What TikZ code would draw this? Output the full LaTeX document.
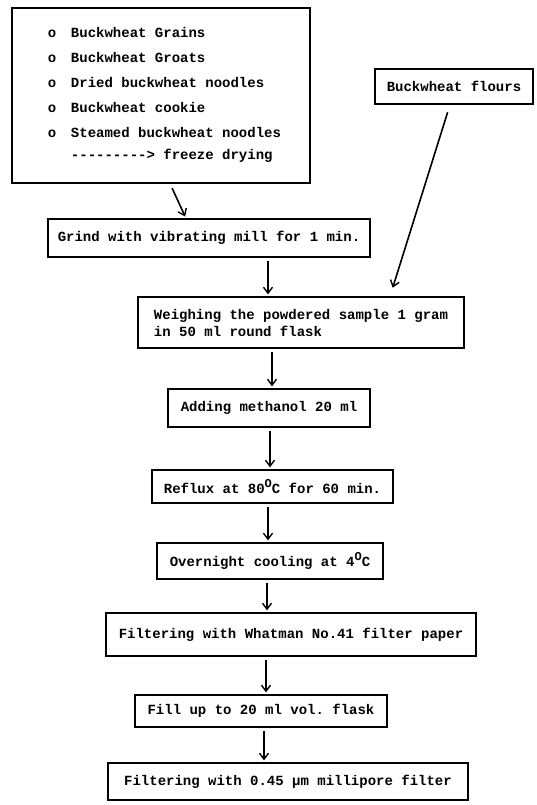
\documentclass[tikz,border=0pt]{standalone}
\usepackage{fontspec}
\setmonofont{Liberation Mono}
\usetikzlibrary{arrows.meta,calc}
\newcommand{\degO}{\raisebox{6pt}{\fontsize{12}{12}\selectfont O}}

\begin{document}
\begin{tikzpicture}[x = 1pt, y = -1pt,
  box/.style = {draw, line width = 1.3pt, inner sep = 0pt, font = \ttfamily\bfseries\fontsize{14}{17}\selectfont},
  flow/.style = {-{Straight Barb[length=6pt, width=9pt, line width=1.4pt]}, line width = 1.6pt, shorten <= 3pt, shorten >= 2pt}]
\useasboundingbox (0,0) rectangle (537,805);
% sources
\node[box, minimum width = 298, minimum height = 175] (src) at (161,95.5) {\begin{tabular}{@{\hspace{7pt}}l@{\hspace{14.6pt}}l@{}}
o & Buckwheat Grains\\[8pt]
o & Buckwheat Groats\\[8pt]
o & Dried buckwheat noodles\\[8pt]
o & Buckwheat cookie\\[8pt]
o & Steamed buckwheat noodles\\[5pt]
  & ---------> freeze drying
\end{tabular}};
\node[box, minimum width = 158, minimum height = 35] (flours) at (454,86.5) {Buckwheat flours};
% steps
\node[box, minimum width = 322, minimum height = 38] (grind) at (209,238) {Grind with vibrating mill for 1 min.};
\node[box, minimum width = 326, minimum height = 51, align = left] (weigh) at (301,322.5) {Weighing the powdered sample 1 gram\\in 50 ml round flask};
\node[box, minimum width = 202, minimum height = 38] (meth) at (269,408) {Adding methanol 20 ml};
\node[box, minimum width = 241, minimum height = 33] (reflux) at (272.5,486.5) {Reflux at 80\degO C for 60 min.};
\node[box, minimum width = 226, minimum height = 36] (cool) at (270,561) {Overnight cooling at 4\degO C};
\node[box, minimum width = 370, minimum height = 43] (whatman) at (291,634.5) {Filtering with Whatman No.41 filter paper};
\node[box, minimum width = 252, minimum height = 32] (fill) at (261,711) {Fill up to 20 ml vol. flask};
\node[box, minimum width = 360, minimum height = 37] (milli) at (288,781.5) {Filtering with 0.45 μm millipore filter};
% arrows
\draw[flow, shorten <= 5pt] ([xshift=9pt]src.south) -- ([xshift=-23pt]grind.north);
\draw[flow, shorten <= 8pt, shorten >= 9pt] ([xshift=-4pt]flours.south) -- ([xshift=89pt]weigh.north);
\draw[flow] ([xshift=59pt]grind.south) -- ([xshift=-33pt]weigh.north);
\draw[flow] ([xshift=-29pt]weigh.south) -- ([xshift=3pt]meth.north);
\draw[flow] ([xshift=1pt]meth.south) -- ([xshift=-2.5pt]reflux.north);
\draw[flow] ([xshift=-4.5pt]reflux.south) -- ([xshift=-2pt]cool.north);
\draw[flow] ([xshift=-3pt]cool.south) -- ([xshift=-24pt]whatman.north);
\draw[flow] ([xshift=-25pt]whatman.south) -- ([xshift=5pt]fill.north);
\draw[flow] ([xshift=3pt]fill.south) -- ([xshift=-24pt]milli.north);
\end{tikzpicture}
\end{document}
